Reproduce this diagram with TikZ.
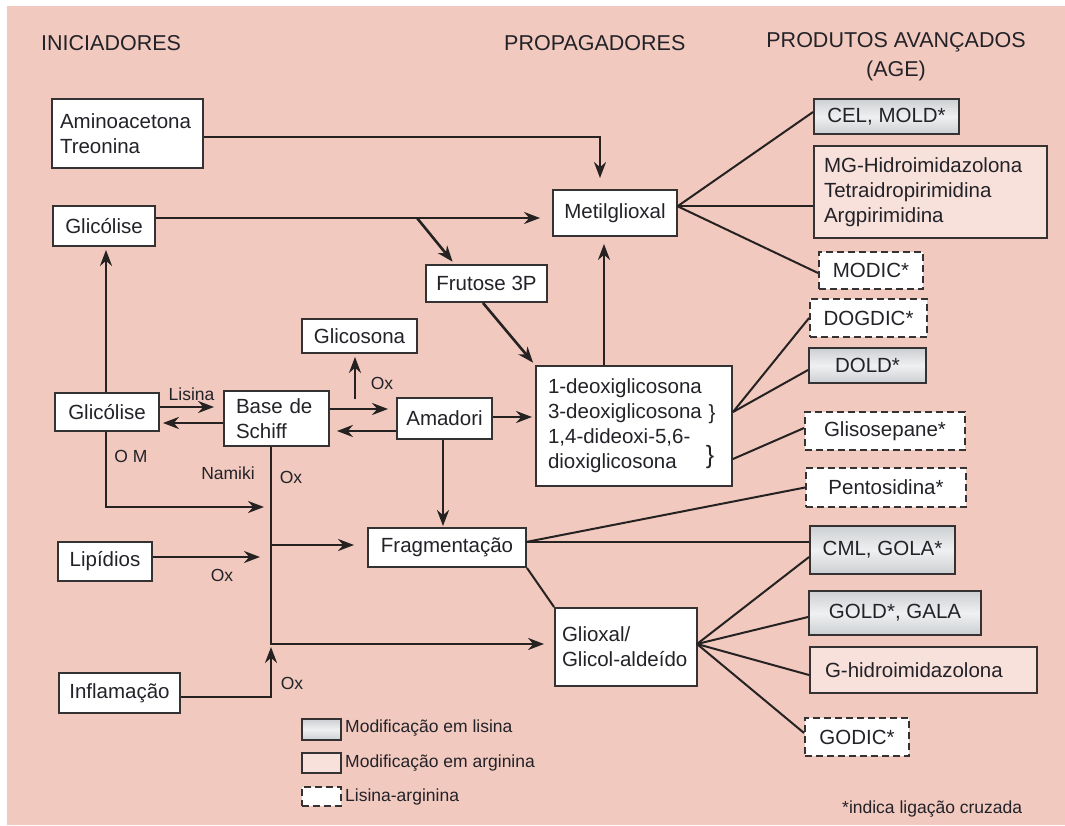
\documentclass[tikz,border=0pt]{standalone}
\usepackage{fontspec}
\setmainfont{Liberation Sans}
\usepackage{tikz}
\usetikzlibrary{arrows.meta,positioning,calc}

\definecolor{bgpink}{RGB}{241,201,191}
\definecolor{argfill}{RGB}{249,225,219}
\definecolor{lysedge}{RGB}{204,207,210}
\definecolor{lysmid}{RGB}{239,240,241}
\definecolor{boxline}{RGB}{52,50,50}
\definecolor{lineclr}{RGB}{38,34,34}
\definecolor{txtclr}{RGB}{34,34,40}

\begin{document}
\begin{tikzpicture}[
    x=1pt, y=-1pt,
    every node/.style={text=txtclr},
    box/.style={rectangle, draw=boxline, line width=1.9pt, fill=white, inner sep=0pt,
        font=\fontsize{20.5}{25}\selectfont},
    lysbox/.style={box, top color=lysedge, bottom color=lysedge, middle color=lysmid},
    argbox/.style={box, fill=argfill},
    crossbox/.style={box, dash pattern=on 7pt off 4pt},
    arrow/.style={-{Stealth[length=16pt, width=12pt]}, line width=2.6pt, draw=lineclr},
    link/.style={line width=2pt, draw=lineclr},
    lbl/.style={font=\fontsize{17.5}{20}\selectfont, inner sep=0pt},
    heading/.style={font=\fontsize{21.5}{29}\selectfont, inner sep=0pt}
]

\useasboundingbox (0,0) rectangle (1065,826);
\fill[bgpink] (7,6) rectangle (1065,825);

\node[heading, anchor=west] (tini) at (41,43) {INICIADORES};
\node[heading, anchor=west] (tprop) at (504,43) {PROPAGADORES};
\node[heading, align=center] (tage) at (896,57) {PRODUTOS AVANÇADOS\\(AGE)};

\node[box, minimum width=151pt, minimum height=69pt, text width=135pt, align=left] (amino) at (127.5,133.5) {Aminoacetona\\Treonina};
\node[box, minimum width=102pt, minimum height=40pt] (glictop) at (104,226) {Glicólise};
\node[box, minimum width=124pt, minimum height=46pt] (metil) at (615,213) {Metilglioxal};
\node[box, minimum width=121pt, minimum height=37pt] (frut) at (486.5,283.5) {Frutose 3P};
\node[box, minimum width=115pt, minimum height=34pt] (glicos) at (359.5,336) {Glicosona};
\node[box, minimum width=104pt, minimum height=38pt] (glicmid) at (107,412) {Glicólise};
\node[box, minimum width=105pt, minimum height=55pt, text width=81pt, align=left] (base) at (276.5,418.5) {Base de\\Schiff};
\node[box, minimum width=95pt, minimum height=41pt] (amad) at (444.5,418.5) {Amadori};
\node[box, minimum width=196pt, minimum height=120pt, text width=172pt, align=left] (deoxi) at (634,426)
    {1-deoxiglicosona\\3-deoxiglicosona\\1,4-dideoxi-5,6-\\dioxiglicosona};
\node[font=\fontsize{20.5}{25}\selectfont, inner sep=0pt] (bra) at (712,414) {\}};
\node[font=\fontsize{25}{30}\selectfont, inner sep=0pt] (brb) at (710,457) {\}};
\node[box, minimum width=158pt, minimum height=39pt] (frag) at (447,547.5) {Fragmentação};
\node[box, minimum width=94pt, minimum height=39pt] (lip) at (105,561.5) {Lipídios};
\node[box, minimum width=121pt, minimum height=40pt] (infl) at (119.5,693) {Inflamação};
\node[box, minimum width=142pt, minimum height=78pt, text width=128pt, align=left] (gliox) at (626,647) {Glioxal/\\Glicol-aldeído};

\node[lysbox, minimum width=145pt, minimum height=35pt] (cel) at (886.5,116.5) {CEL, MOLD*};
\node[argbox, minimum width=233pt, minimum height=92pt, text width=213pt, align=left] (mg) at (930.5,192)
    {MG-Hidroimidazolona\\Tetraidropirimidina\\Argpirimidina};
\node[crossbox, minimum width=104pt, minimum height=37pt] (modic) at (871,270.5) {MODIC*};
\node[crossbox, minimum width=117pt, minimum height=38pt] (dogdic) at (868.5,318) {DOGDIC*};
\node[lysbox, minimum width=117pt, minimum height=35pt] (dold) at (867.5,365.5) {DOLD*};
\node[crossbox, minimum width=160pt, minimum height=38pt] (glis) at (885,431) {Glisosepane*};
\node[crossbox, minimum width=160pt, minimum height=39pt] (pent) at (886,487.5) {Pentosidina*};
\node[lysbox, minimum width=145pt, minimum height=48pt] (cml) at (882.5,550) {CML, GOLA*};
\node[lysbox, minimum width=172pt, minimum height=44pt] (gold) at (895,613) {GOLD*, GALA};
\node[argbox, minimum width=227pt, minimum height=46pt, text width=197pt, align=left] (ghid) at (923.5,670) {G-hidroimidazolona};
\node[crossbox, minimum width=104pt, minimum height=38pt] (godic) at (857,737) {GODIC*};

\node[lysbox, minimum width=39pt, minimum height=21pt] (leglys) at (321.5,729.5) {};
\node[argbox, minimum width=39pt, minimum height=20pt] (legarg) at (321.5,763) {};
\node[crossbox, minimum width=39pt, minimum height=19pt] (legcross) at (321.5,796.5) {};
\node[lbl, anchor=west] (txtlys) at (345,728) {Modificação em lisina};
\node[lbl, anchor=west] (txtarg) at (345,763) {Modificação em arginina};
\node[lbl, anchor=west] (txtcross) at (345,797) {Lisina-arginina};
\node[lbl, anchor=west] (nota) at (842,809) {*indica ligação cruzada};

\coordinate (fork) at (417,218);
\coordinate (oxg) at (355,399);
\coordinate (tom) at (271,507);
\coordinate (tfrag) at (271,545);
\coordinate (tlip) at (271,557);
\coordinate (tbot) at (271,644);
\coordinate (tinf) at (271,697);
\coordinate (mj) at (677,206);
\coordinate (dja) at (733,412);
\coordinate (djb) at (733,459);
\coordinate (fj) at (526,542);
\coordinate (gj) at (697,644);

\draw[arrow, shorten >=11pt] (amino.east |- 0,137) -| ([xshift=-15pt]metil.north);
\draw[arrow, shorten >=12pt] (glictop.east |- fork) -- (fork) -- (metil.west |- fork);
\draw[arrow, shorten >=3pt] (fork) -- ([xshift=-32pt]frut.north);
\draw[arrow, shorten >=3pt] (glicmid.north -| 106,0) -- (glictop.south -| 106,0);
\draw[arrow, shorten >=3pt] ([xshift=-3.5pt]frut.south) -- (deoxi.north west);
\draw[arrow, shorten >=7pt] ([xshift=-30pt]deoxi.north) -- ([xshift=-30pt]deoxi.north |- metil.south);

\draw[arrow, shorten >=9pt] (glicmid.east |- 0,407) -- node[lbl, above=5pt] (lis) {Lisina} (base.west |- 0,407);
\draw[arrow, shorten >=3pt] (base.west |- 0,423) -- (glicmid.east |- 0,423);
\draw[arrow, shorten >=8pt] (base.east |- 0,409) -- (amad.west |- 0,409);
\draw[arrow, shorten >=7pt] (amad.west |- 0,431) -- (base.east |- 0,431);
\draw[arrow, shorten >=3pt] (oxg) -- (oxg |- glicos.south);
\node[lbl] (oxa) at (382,383) {Ox};
\draw[arrow, shorten >=3pt] (amad.east |- 0,417) -- (deoxi.west |- 0,417);
\draw[arrow, shorten >=1pt] (amad.south -| 443,0) -- (frag.north -| 443,0);

\draw[arrow, shorten >=7pt] (glicmid.south -| tom) ++(-165,0) |- (tom);
\node[lbl] (om) at (131,456) {O M};
\node[lbl] (nam) at (228,473) {Namiki};
\node[lbl] (oxb) at (291,477) {Ox};
\draw[arrow, shorten >=10pt] (base.south -| tbot) -- (tbot) -- (gliox.west |- tbot);
\draw[arrow, shorten >=13pt] (tfrag) -- (frag.west |- tfrag);
\draw[arrow, shorten >=11pt] (lip.east |- tlip) -- (tlip);
\node[lbl] (oxc) at (222,575) {Ox};
\draw[arrow, shorten >=3pt] (infl.east |- tinf) -| (tbot);
\node[lbl] (oxd) at (292,683) {Ox};

\draw[link] (metil.east |- mj) -- ([yshift=4.5pt]cel.west);
\draw[link] (mj) -- (mg.west |- mj);
\draw[link] (mj) -- ([yshift=-2.5pt]modic.west);
\draw[link] (dja) -- (dogdic.west);
\draw[link] (dja) -- ([yshift=-4.5pt]dold.west);
\draw[link] (djb) -- ([yshift=3pt]glis.west);
\draw[link] (fj) -- (pent.west);
\draw[link] (fj) -- (cml.west |- fj);
\draw[link] (frag.south east) -- (gliox.north west);
\draw[link] (gj) -- ([yshift=-7pt]cml.west);
\draw[link] (gj) -- ([yshift=-4pt]gold.west);
\draw[link] (gj) -- ([yshift=-5pt]ghid.west);
\draw[link] (gj) -- ([yshift=4pt]godic.west);

\end{tikzpicture}
\end{document}
